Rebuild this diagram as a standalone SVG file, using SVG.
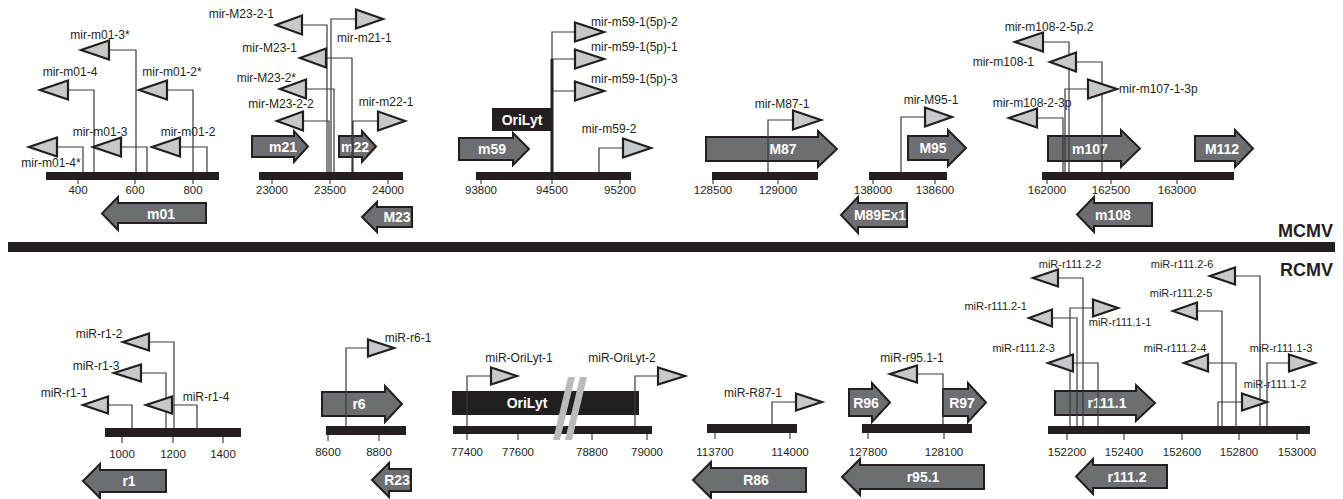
<svg xmlns="http://www.w3.org/2000/svg" width="1343" height="499" viewBox="0 0 1343 499">
<style>
.bg{fill:#fff}
.bar{fill:#231f20}
.gene{fill:#6d6e71;stroke:#231f20;stroke-width:2;stroke-linejoin:miter}
.ori{fill:#231f20}
.mir{fill:#c7c8ca;stroke:#231f20;stroke-width:2.2;stroke-linejoin:miter}
.stem{fill:none;stroke:#3a3a3c;stroke-width:1.2}
.tk{stroke:#231f20;stroke-width:1}
.brk{fill:#b8babc}
text{font-family:"Liberation Sans",Arial,Helvetica,sans-serif;fill:#231f20}
.l{font-size:12px}
.s{font-size:11px}
.m{text-anchor:middle}
.e{text-anchor:end}
.t{font-size:11.5px;text-anchor:middle}
.g{font-size:14px;font-weight:bold;fill:#fff;text-anchor:middle;dominant-baseline:central}
.v{font-size:18px;font-weight:bold;text-anchor:end}
</style>
<rect class="bg" x="0" y="0" width="1343" height="499"/>

<!-- genome bars and scales -->
<g id="scales">
<rect class="bar" x="46" y="172" width="173" height="8"/>
<path class="tk" d="M78,180V184M135,180V184M193,180V184"/>
<text class="t" x="78" y="194">400</text><text class="t" x="135" y="194">600</text><text class="t" x="193" y="194">800</text>

<rect class="bar" x="259" y="172" width="144" height="8"/>
<path class="tk" d="M272,180V184M330,180V184M388,180V184"/>
<text class="t" x="272" y="194">23000</text><text class="t" x="330" y="194">23500</text><text class="t" x="388" y="194">24000</text>

<rect class="bar" x="476" y="172" width="155" height="8"/>
<path class="tk" d="M481,180V184M552,180V184M620,180V184"/>
<text class="t" x="481" y="194">93800</text><text class="t" x="552" y="194">94500</text><text class="t" x="620" y="194">95200</text>

<rect class="bar" x="712" y="172" width="106" height="8"/>
<path class="tk" d="M713,180V184M778,180V184"/>
<text class="t" x="713" y="194">128500</text><text class="t" x="778" y="194">129000</text>

<rect class="bar" x="869" y="172" width="78" height="8"/>
<path class="tk" d="M873,180V184M935,180V184"/>
<text class="t" x="873" y="194">138000</text><text class="t" x="935" y="194">138600</text>

<rect class="bar" x="1042" y="172" width="192" height="8"/>
<path class="tk" d="M1047,180V184M1111,180V184M1177,180V184"/>
<text class="t" x="1047" y="194">162000</text><text class="t" x="1111" y="194">162500</text><text class="t" x="1177" y="194">163000</text>

<rect class="bar" x="8" y="242" width="1327" height="10"/>

<rect class="bar" x="105" y="428" width="136" height="9"/>
<path class="tk" d="M122,437V443M173,437V443M223,437V443"/>
<text class="t" x="122" y="458">1000</text><text class="t" x="173" y="458">1200</text><text class="t" x="223" y="458">1400</text>

<rect class="bar" x="326" y="426" width="80" height="9"/>
<path class="tk" d="M328,435V441M379,435V441"/>
<text class="t" x="328" y="456">8600</text><text class="t" x="379" y="456">8800</text>

<rect class="bar" x="453" y="426" width="199" height="8"/>
<path class="tk" d="M467,434V440M518,434V440M592,434V440M647,434V440"/>
<text class="t" x="467" y="456">77400</text><text class="t" x="518" y="456">77600</text><text class="t" x="592" y="456">78800</text><text class="t" x="647" y="456">79000</text>

<rect class="bar" x="707" y="424" width="90" height="9"/>
<path class="tk" d="M715,433V439M790,433V439"/>
<text class="t" x="715" y="456">113700</text><text class="t" x="790" y="456">114000</text>

<rect class="bar" x="862" y="424" width="110" height="9"/>
<path class="tk" d="M868,433V439M944,433V439"/>
<text class="t" x="868" y="456">127800</text><text class="t" x="944" y="456">128100</text>

<rect class="bar" x="1048" y="426" width="262" height="8"/>
<path class="tk" d="M1067,434V440M1124,434V440M1182,434V440M1239,434V440M1297,434V440"/>
<text class="t" x="1067" y="456">152200</text><text class="t" x="1124" y="456">152400</text><text class="t" x="1182" y="456">152600</text><text class="t" x="1239" y="456">152800</text><text class="t" x="1297" y="456">153000</text>
</g>

<text class="v" x="1333" y="237">MCMV</text>
<text class="v" x="1333" y="276">RCMV</text>

<!-- genes -->
<g id="gene-m01"><path class="gene" d="M206,203H118V197L102,213.5L118,230V223H206Z"/><text class="g" x="161" y="213.5">m01</text></g>
<g id="gene-m21"><path class="gene" d="M252,136H294V131L308,146.5L294,162V157H252Z"/><text class="g" x="283" y="146.5">m21</text></g>
<g id="gene-m22"><path class="gene" d="M339,136H362V131L376,146.5L362,162V157H339Z"/><text class="g" x="355" y="146.5">m22</text></g>
<g id="gene-M23"><path class="gene" d="M412,207H377V202L362,217L377,232V227H412Z"/><text class="g" x="397" y="217">M23</text></g>
<g id="gene-OriLyt-m"><rect class="ori" x="492" y="108" width="59" height="23"/><text class="g" x="522" y="119.5">OriLyt</text></g>
<g id="gene-m59"><path class="gene" d="M459,138H513V133L529,149L513,165V160H459Z"/><text class="g" x="492" y="149">m59</text></g>
<g id="gene-M87"><path class="gene" d="M706,137H818V131L837,149L818,167V161H706Z"/><text class="g" x="783" y="149">M87</text></g>
<g id="gene-M95"><path class="gene" d="M908,136H948V130L966,148L948,166V160H908Z"/><text class="g" x="933" y="148">M95</text></g>
<g id="gene-M89Ex1"><path class="gene" d="M907,203H858V197L841,215L858,233V227H907Z"/><text class="g" x="880" y="215">M89Ex1</text></g>
<g id="gene-m107"><path class="gene" d="M1048,136H1121V130L1140,148.5L1121,167V161H1048Z"/><text class="g" x="1090" y="148.5">m107</text></g>
<g id="gene-M112"><path class="gene" d="M1195,136H1235V130L1253,148.5L1235,167V161H1195Z"/><text class="g" x="1222" y="148.5">M112</text></g>
<g id="gene-m108"><path class="gene" d="M1152,203H1094V197L1077,214.5L1094,232V226H1152Z"/><text class="g" x="1113" y="214.5">m108</text></g>

<g id="gene-r1"><path class="gene" d="M166,470H100V464L83,481L100,498V492H166Z"/><text class="g" x="129" y="481">r1</text></g>
<g id="gene-r6"><path class="gene" d="M322,392H385V386L402,404L385,422V416H322Z"/><text class="g" x="359" y="404">r6</text></g>
<g id="gene-R23"><path class="gene" d="M411,469H389V463L372,480L389,497V491H411Z"/><text class="g" x="397" y="480">R23</text></g>
<g id="gene-OriLyt-r"><rect class="ori" x="452" y="391" width="187" height="24"/><text class="g" x="527" y="403">OriLyt</text></g>
<g id="gene-R86"><path class="gene" d="M806,468H711V462L693,480L711,498V492H806Z"/><text class="g" x="756" y="480">R86</text></g>
<g id="gene-R96"><path class="gene" d="M849,389H872V383L890,402.5L872,422V416H849Z"/><text class="g" x="866" y="402.5">R96</text></g>
<g id="gene-R97"><path class="gene" d="M943,389H968V383L986,402.5L968,422V416H943Z"/><text class="g" x="962" y="402.5">R97</text></g>
<g id="gene-r95.1"><path class="gene" d="M984,465H860V459L842,477L860,495V489H984Z"/><text class="g" x="923" y="477">r95.1</text></g>
<g id="gene-r111.1"><path class="gene" d="M1055,391H1136V385L1155,403L1136,421V415H1055Z"/><text class="g" x="1107" y="403">r111.1</text></g>
<g id="gene-r111.2"><path class="gene" d="M1167,465H1093V459L1076,476.5L1093,494V488H1167Z"/><text class="g" x="1127" y="476.5">r111.2</text></g>

<g id="break"><polygon class="brk" points="553,440 560,440 575,377 568,377"/><polygon class="brk" points="565,440 572,440 587,377 580,377"/></g>

<!-- connectors -->
<g id="connectors">
<path class="stem" d="M136,172V50H109M94,172V90H68M193,172V90H167M83,172V147H57M147,172V147H121M207,172V147H180"/>
<path class="stem" d="M327,172V25H302M331,172V19H356M352,172V58H326M334,172V89H306M329,172V121H303M353,172V121H378"/>
<path class="stem" d="M552,172V32H575M552,59H575M552,91H575M599,172V148H623"/>
<path d="M552,172V59" stroke="#231f20" stroke-width="3"/>
<path class="stem" d="M768,172V120H793M901,172V117H925"/>
<path class="stem" d="M1069,172V42H1043M1102,172V62H1076M1065,172V89H1088M1063,172V118H1037"/>
<path class="stem" d="M174,428V342H149M166,428V373H141M132,428V405H108M197,428V405H172M346,426V348H368"/>
<path class="stem" d="M467,426V376H491M635,426V376H658M772,424V402H796M943,424V374H917"/>
<path class="stem" d="M1083,426V278H1058M1077,426V318H1052M1070,426V308H1093M1098,426V363H1073M1260,426V276H1235M1222,426V311H1197M1236,426V363H1208M1267,426V363H1289M1218,426V402H1242"/>
</g>

<!-- miRNAs -->
<g id="mir-m01-3s"><polygon class="mir" points="109,40.5 109,59.5 81,50"/><text class="l m" x="100" y="39">mir-m01-3*</text></g>
<g id="mir-m01-4"><polygon class="mir" points="68,80.5 68,99.5 40,90"/><text class="l m" x="70" y="76">mir-m01-4</text></g>
<g id="mir-m01-2s"><polygon class="mir" points="167,80.5 167,99.5 139,90"/><text class="l m" x="172" y="76">mir-m01-2*</text></g>
<g id="mir-m01-4s"><polygon class="mir" points="57,137.5 57,156.5 29,147"/><text class="l m" x="51" y="167">mir-m01-4*</text></g>
<g id="mir-m01-3"><polygon class="mir" points="121,137.5 121,156.5 93,147"/><text class="l m" x="100" y="136">mir-m01-3</text></g>
<g id="mir-m01-2"><polygon class="mir" points="180,137.5 180,156.5 152,147"/><text class="l m" x="188" y="136">mir-m01-2</text></g>

<g id="mir-M23-2-1"><polygon class="mir" points="302,15.5 302,34.5 276,25"/><text class="l e" x="274" y="18">mir-M23-2-1</text></g>
<g id="mir-m21-1"><polygon class="mir" points="356,9.5 356,28.5 383,19"/><text class="l" x="337" y="42">mir-m21-1</text></g>
<g id="mir-M23-1"><polygon class="mir" points="326,48.5 326,67.5 300,58"/><text class="l e" x="297" y="52">mir-M23-1</text></g>
<g id="mir-M23-2s"><polygon class="mir" points="306,79.5 306,98.5 280,89"/><text class="l e" x="296" y="82">mir-M23-2*</text></g>
<g id="mir-M23-2-2"><polygon class="mir" points="303,111.5 303,130.5 277,121"/><text class="l m" x="281" y="108">mir-M23-2-2</text></g>
<g id="mir-m22-1"><polygon class="mir" points="378,111.5 378,130.5 405,121"/><text class="l m" x="386" y="106">mir-m22-1</text></g>

<g id="mir-m59-1-5p-2"><polygon class="mir" points="575,22.5 575,41.5 604,32"/><text class="l" x="591" y="26">mir-m59-1(5p)-2</text></g>
<g id="mir-m59-1-5p-1"><polygon class="mir" points="575,49.5 575,68.5 604,59"/><text class="l" x="591" y="51">mir-m59-1(5p)-1</text></g>
<g id="mir-m59-1-5p-3"><polygon class="mir" points="575,81.5 575,100.5 604,91"/><text class="l" x="591" y="83">mir-m59-1(5p)-3</text></g>
<g id="mir-m59-2"><polygon class="mir" points="623,138.5 623,157.5 651,148"/><text class="l m" x="609" y="133">mir-m59-2</text></g>

<g id="mir-M87-1"><polygon class="mir" points="793,110.5 793,129.5 821,120"/><text class="l m" x="782" y="108">mir-M87-1</text></g>
<g id="mir-M95-1"><polygon class="mir" points="925,107.5 925,126.5 952,117"/><text class="l m" x="931" y="104">mir-M95-1</text></g>

<g id="mir-m108-2-5p.2"><polygon class="mir" points="1043,32.5 1043,51.5 1015,42"/><text class="l m" x="1049" y="31">mir-m108-2-5p.2</text></g>
<g id="mir-m108-1"><polygon class="mir" points="1076,52.5 1076,71.5 1050,62"/><text class="l e" x="1034" y="66">mir-m108-1</text></g>
<g id="mir-m107-1-3p"><polygon class="mir" points="1088,79.5 1088,98.5 1117,89"/><text class="l" x="1119" y="93">mir-m107-1-3p</text></g>
<g id="mir-m108-2-3p"><polygon class="mir" points="1037,108.5 1037,127.5 1009,118"/><text class="l m" x="1032" y="107">mir-m108-2-3p</text></g>

<g id="miR-r1-2"><polygon class="mir" points="149,333.5 149,350.5 123,342"/><text class="l m" x="99" y="338">miR-r1-2</text></g>
<g id="miR-r1-3"><polygon class="mir" points="141,364.5 141,381.5 114,373"/><text class="l m" x="96" y="370">miR-r1-3</text></g>
<g id="miR-r1-1"><polygon class="mir" points="108,396.5 108,413.5 83,405"/><text class="l m" x="64" y="397">miR-r1-1</text></g>
<g id="miR-r1-4"><polygon class="mir" points="172,396.5 172,413.5 146,405"/><text class="l m" x="206" y="401">miR-r1-4</text></g>
<g id="miR-r6-1"><polygon class="mir" points="368,339.5 368,356.5 394,348"/><text class="l m" x="408" y="342">miR-r6-1</text></g>

<g id="miR-OriLyt-1"><polygon class="mir" points="491,367.5 491,384.5 517,376"/><text class="l m" x="519" y="362">miR-OriLyt-1</text></g>
<g id="miR-OriLyt-2"><polygon class="mir" points="658,367.5 658,384.5 685,376"/><text class="l m" x="622" y="362">miR-OriLyt-2</text></g>
<g id="miR-R87-1"><polygon class="mir" points="796,393.5 796,410.5 822,402"/><text class="l m" x="753" y="397">miR-R87-1</text></g>
<g id="miR-r95.1-1"><polygon class="mir" points="917,365.5 917,382.5 890,374"/><text class="l m" x="912" y="362">miR-r95.1-1</text></g>

<g id="miR-r111.2-2"><polygon class="mir" points="1058,269.5 1058,286.5 1033,278"/><text class="s m" x="1070" y="268">miR-r111.2-2</text></g>
<g id="miR-r111.2-1"><polygon class="mir" points="1052,309.5 1052,326.5 1029,318"/><text class="s e" x="1027" y="310">miR-r111.2-1</text></g>
<g id="miR-r111.1-1"><polygon class="mir" points="1093,299.5 1093,316.5 1118,308"/><text class="s m" x="1120" y="326">miR-r111.1-1</text></g>
<g id="miR-r111.2-3"><polygon class="mir" points="1073,354.5 1073,371.5 1048,363"/><text class="s e" x="1055" y="352">miR-r111.2-3</text></g>
<g id="miR-r111.2-6"><polygon class="mir" points="1235,267.5 1235,284.5 1210,276"/><text class="s m" x="1182" y="268">miR-r111.2-6</text></g>
<g id="miR-r111.2-5"><polygon class="mir" points="1197,302.5 1197,319.5 1173,311"/><text class="s m" x="1181" y="297">miR-r111.2-5</text></g>
<g id="miR-r111.2-4"><polygon class="mir" points="1208,354.5 1208,371.5 1184,363"/><text class="s m" x="1175" y="352">miR-r111.2-4</text></g>
<g id="miR-r111.1-3"><polygon class="mir" points="1289,354.5 1289,371.5 1315,363"/><text class="s m" x="1281" y="352">miR-r111.1-3</text></g>
<g id="miR-r111.1-2"><polygon class="mir" points="1242,393.5 1242,410.5 1267,402"/><text class="s m" x="1275" y="388">miR-r111.1-2</text></g>
</svg>
